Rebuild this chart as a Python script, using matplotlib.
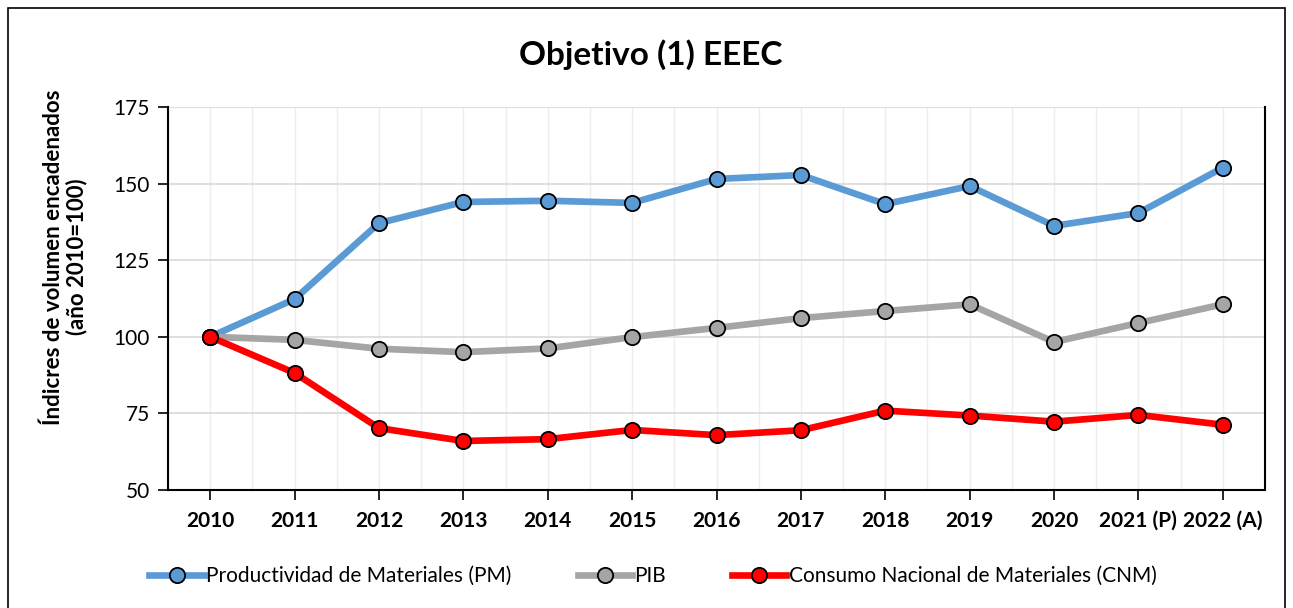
import matplotlib
matplotlib.use("Agg")
import matplotlib.pyplot as plt
from matplotlib.patches import Rectangle
from matplotlib.ticker import MultipleLocator

# ---------------------------------
# Data
# ---------------------------------
years = ["2010", "2011", "2012", "2013", "2014", "2015", "2016",
         "2017", "2018", "2019", "2020", "2021 (P)", "2022 (A)"]
pm = [100, 112.3, 137.1, 144.0, 144.4, 143.7, 151.5,
      152.8, 143.3, 149.2, 136.2, 140.4, 155.2]
pib = [100, 99.0, 96.1, 95.0, 96.2, 99.9, 102.9,
       106.1, 108.4, 110.6, 98.3, 104.5, 110.6]
cnm = [100, 88.2, 70.2, 66.0, 66.6, 69.6, 67.9,
       69.5, 75.9, 74.3, 72.3, 74.5, 71.3]

plt.rcParams['font.family'] = ['Lato', 'DejaVu Sans']

W, H = 1293, 608
fig = plt.figure(figsize=(W / 100, H / 100), dpi=100)
ax = fig.add_axes([168 / W, 1 - 490 / H, (1265 - 168) / W, (490 - 107) / H])

# outer chart border
fig.patches.append(Rectangle((8 / W, -0.01), 1277 / W, 1 - 8 / H + 0.01,
                             transform=fig.transFigure, fill=False,
                             edgecolor="black", linewidth=1.2))

x = list(range(len(years)))
ax.plot(x, pm, color="#5B9BD5", lw=4.8, marker="o", ms=11,
        mfc="#5B9BD5", mec="black", mew=1.3, label="Productividad de Materiales (PM)", zorder=3)
ax.plot(x, pib, color="#A5A5A5", lw=4.8, marker="o", ms=11,
        mfc="#A5A5A5", mec="black", mew=1.3, label="PIB", zorder=3)
ax.plot(x, cnm, color="#FF0000", lw=4.8, marker="o", ms=11,
        mfc="#FF0000", mec="black", mew=1.3, label="Consumo Nacional de Materiales (CNM)", zorder=4)

ax.set_xlim(-0.5, len(years) - 0.5)
ax.set_ylim(50, 175)
ax.set_xticks(x)
ax.set_xticklabels(years, fontsize=15, fontweight="bold")
ax.xaxis.set_minor_locator(MultipleLocator(0.5))
ax.yaxis.set_major_locator(MultipleLocator(25))
ax.tick_params(axis="y", labelsize=15, length=7, width=1.2, direction="out", pad=6)
ax.tick_params(axis="x", which="major", length=7, width=1.2, direction="out", pad=8)
ax.tick_params(axis="x", which="minor", length=0)

ax.grid(axis="y", color="#D9D9D9", lw=1.2)
ax.grid(axis="x", which="both", color="#EDEDED", lw=1.0)
ax.set_axisbelow(True)

for s in ["left", "bottom", "right", "top"]:
    ax.spines[s].set_linewidth(1.5)
ax.spines["top"].set_visible(False)
ax.spines["right"].set_visible(False)
ax.plot([1, 1], [0, 1], transform=ax.transAxes, color="black", lw=1.5, clip_on=False)

# y axis title (two lines, placed like the original)
fig.text(53 / W, 1 - 257 / H, "Índicres de volumen encadenados", rotation=90,
         ha="center", va="center", fontsize=16, fontweight="bold")
fig.text(77 / W, 1 - 257 / H, "(año 2010=100)", rotation=90,
         ha="center", va="center", fontsize=16, fontweight="bold")

fig.text(0.503, 1 - 55 / H, "Objetivo (1) EEEC", ha="center", va="center",
         fontsize=24, fontweight="bold")

fig.legend(loc="center", bbox_to_anchor=(0.505, 1 - 576 / H), ncol=3, frameon=False,
           fontsize=15, handlelength=2.6, handletextpad=0.1, columnspacing=3.2)

fig.savefig("out.png", dpi=100)
